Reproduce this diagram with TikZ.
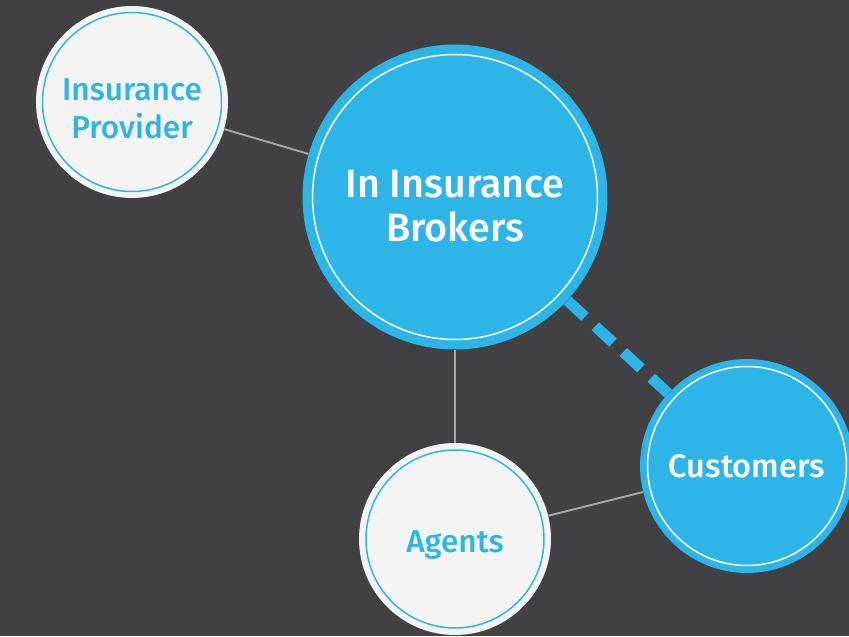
\documentclass[tikz,border=0pt]{standalone}
\usepackage{fontspec}
\setmainfont{Fira Sans Medium}
\usetikzlibrary{positioning}
\definecolor{brokerblue}{RGB}{44, 181, 230}
\definecolor{slatebg}{RGB}{65, 65, 67}
\definecolor{paperwhite}{RGB}{244, 244, 244}
\definecolor{linkgray}{RGB}{166, 166, 166}
\newcommand{\toppad}[1]{\rule{0pt}{#1}}

\begin{document}
\begin{tikzpicture}[x=0.02cm, y=-0.02cm,
  ringed/.style 2 args={path picture={\draw[#1, line width=0.85pt] (path picture bounding box.center) circle (#2);}},
  partynode/.style={circle, fill=paperwhite, inner sep=0pt, text=brokerblue, align=center, font=\fontsize{18}{22}\selectfont},
  brokernode/.style={circle, fill=brokerblue, inner sep=0pt, text=white, align=center},
  link/.style={draw=linkgray, line width=1.1pt},
  hotlink/.style={draw=brokerblue, line width=6.2pt, dash pattern=on 0.48cm off 0.28cm}]
  % background
  \fill[slatebg] (0,0) rectangle (849,636);
  \useasboundingbox (0,0) rectangle (849,636);

  % circles
  \node[brokernode, minimum size=6.1cm, ringed={white}{2.85cm}, font=\fontsize{22.5}{25.5}\selectfont] (brokers) at (455,197) {\toppad{26pt}In Insurance\\Brokers};
  \node[partynode, minimum size=3.84cm, ringed={brokerblue}{1.79cm}] (provider) at (132,102) {\toppad{20pt}Insurance\\Provider};
  \node[partynode, minimum size=3.84cm, ringed={brokerblue}{1.78cm}] (agents) at (455,539) {\toppad{19pt}Agents};
  \node[brokernode, minimum size=4.28cm, ringed={white}{1.99cm}, font=\fontsize{18.5}{22}\selectfont] (customers) at (747,466) {Customers};

  % links
  \draw[link] (provider) -- (brokers);
  \draw[link] (brokers) -- (agents);
  \draw[link] (agents) -- (customers);
  \draw[hotlink] (brokers) -- (customers);
\end{tikzpicture}
\end{document}
